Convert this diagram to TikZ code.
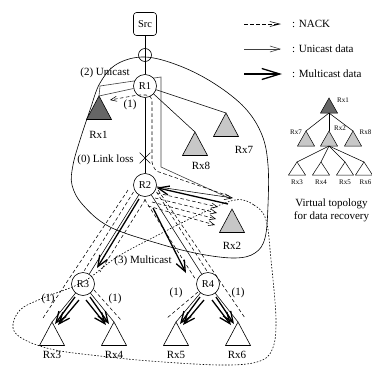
\documentclass[tikz,border=0pt]{standalone}
\usepackage{fontspec}
\setmainfont{Liberation Serif}
\usetikzlibrary{arrows.meta,shapes.misc}
\pgfdeclarelayer{bg}
\pgfsetlayers{bg,main}
\begin{document}
\begin{tikzpicture}[x=1pt,y=-1pt,
  lbl/.style={font=\fontsize{11}{13}\selectfont, inner sep=0pt},
  tinylbl/.style={font=\fontsize{7}{8}\selectfont, inner sep=0pt},
  router/.style={circle, draw, line width=0.6pt, minimum size=23pt, inner sep=0pt, font=\fontsize{10.5}{12}\selectfont},
  srcbox/.style={draw, line width=0.6pt, rounded corners=3pt, minimum size=23pt, inner sep=0pt, font=\fontsize{10.5}{12}\selectfont},
  lnk/.style={line width=0.55pt},
  nack/.style={line width=0.55pt, dash pattern=on 3.5pt off 2.5pt},
  nackarr/.style={nack, -{Straight Barb[length=6pt,width=5pt]}},
  legnack/.style={nack, -{Straight Barb[length=10pt,width=5pt]}},
  ucast/.style={line width=0.6pt, black!75},
  ucastarr/.style={lnk, -{Straight Barb[length=8pt,width=6pt]}},
  legucast/.style={ucast, -{Straight Barb[length=10pt,width=6pt]}},
  mcast/.style={line width=1.3pt, -{Straight Barb[length=11pt,width=9pt]}},
  legmcast/.style={line width=1.3pt, -{Straight Barb[length=18pt,width=11pt]}},
  region/.style={line width=0.6pt},
  dregion/.style={line width=0.6pt, dash pattern=on 1.6pt off 1.6pt},
  tri/.pic={\path[pic actions] (0,0) -- (-12.5,23.5) -- (12.5,23.5) -- cycle; \coordinate (-top) at (0,0);},
  mtri/.pic={\path[pic actions] (0,0) -- (-8.5,15) -- (8.5,15) -- cycle; \coordinate (-top) at (0,0); \coordinate (-base) at (0,15);},
  btri/.pic={\path[pic actions] (0,0) -- (-8.5,13) -- (8.5,13) -- cycle; \coordinate (-top) at (0,0);}
]
\useasboundingbox (0,0) rectangle (372,367);

% ---------- nodes ----------
\node[srcbox] (src) at (145,24) {Src};
\node[circle, draw, line width=0.6pt, minimum size=13pt, inner sep=0pt] (j) at (145,55) {};
\node[router, fill=white] (R1) at (145,86) {R1};
\node[router] (R2) at (145,185) {R2};
\node[router] (R3) at (83,284) {R3};
\node[router] (R4) at (208,284) {R4};

\pic[draw, fill=black!60, line width=0.6pt] (rx1) at (99,96) {tri};
\pic[draw, fill=black!22, line width=0.6pt] (rx8) at (195,132) {tri};
\pic[draw, fill=black!22, line width=0.6pt] (rx7) at (226,113) {tri};
\pic[draw, fill=black!22, line width=0.6pt] (rx2) at (232,209) {tri};
\pic[draw, fill=white, line width=0.6pt] (rx3) at (52,322) {tri};
\pic[draw, fill=white, line width=0.6pt] (rx4) at (114,322) {tri};
\pic[draw, fill=white, line width=0.6pt] (rx5) at (176,322) {tri};
\pic[draw, fill=white, line width=0.6pt] (rx6) at (238,322) {tri};

\node[lbl] (lrx1) at (98.5,135) {Rx1};
\node[lbl] (lrx8) at (201,166) {Rx8};
\node[lbl] (lrx7) at (244,150) {Rx7};
\node[lbl] (lrx2) at (232,246) {Rx2};
\node[lbl] (lrx3) at (52,355) {Rx3};
\node[lbl] (lrx4) at (114,355) {Rx4};
\node[lbl] (lrx5) at (176,355) {Rx5};
\node[lbl] (lrx6) at (237,355) {Rx6};

\node[lbl] (unic) at (105,73) {(2) Unicast};
\node[lbl] (loss) at (105.5,160) {(0) Link loss};
\node[lbl] (one0) at (130,105) {(1)};
\node[lbl] (mult) at (143,261) {(3) Multicast};
\node[lbl] (one1) at (48,299) {(1)};
\node[lbl] (one2) at (115,299) {(1)};
\node[lbl] (one3) at (176,293) {(1)};
\node[lbl] (one4) at (238,293) {(1)};

\node[draw, cross out, line width=0.6pt, minimum size=10pt, inner sep=0pt] (xl) at (145,158) {};

% ---------- background lines ----------
\begin{pgfonlayer}{bg}
\draw[region] plot[smooth cycle, tension=0.6] coordinates {(145,57) (180,66) (215,84) (245,108) (262,135) (268,165) (268,205) (265,238) (255,253) (235,258) (200,254) (160,244) (110,227) (83,205) (72,185) (73,165) (80,140) (90,110) (100,83) (117,64)};
\draw[dregion] plot[smooth cycle, tension=0.6] coordinates {(235,200) (254,205) (266,220) (271,260) (276,320) (272,350) (257,362) (220,365) (150,361) (100,356) (55,350) (25,340) (13,328) (20,310) (43,298) (83,282) (117,257) (160,234) (200,214)};
\draw[lnk] (src) -- (R1);
\draw[lnk] (R1) -- (R2);
\draw[lnk] (R1) -- (rx8-top);
\draw[lnk] (R1) -- (rx7-top);
\draw[ucast] (rx1-top) -- (100,86) -- (161,77) -- (161,167) -- (231,199);
\draw[ucast] (rx1-top) -- (R1);
\end{pgfonlayer}

% ---------- NACK path through R1 ----------
\draw[nackarr, rounded corners=2pt] (229,196) -- (156,171) -- (152,164) -- (152,98) -- (148,95) -- (138,95) -- (110,100);

% ---------- R2 <-> Rx2 ----------
\draw[ucastarr] (R2) -- (233,198);
\draw[mcast] (228,204) -- (R2);
\draw[nackarr] (157,193) -- (218,207);
\draw[nackarr] (155,198) -- (217,213);
\draw[nackarr] (152,202) -- (216,219);
\draw[nackarr] (148,206) -- (215,225);

% ---------- R2 -> R3 corridor ----------
\draw[lnk] (R2) -- (R3);
\draw[mcast] (139,199) -- (97,268);
\draw[nack] (128,190) -- (43,318);
\draw[nack] (133.5,192) -- (84.3,270.6);
\draw[nack] (145.4,199.4) -- (100,272);

% ---------- R3 subtree ----------
\draw[lnk] (R3) -- (rx3-top);
\draw[lnk] (R3) -- (rx4-top);
\draw[mcast] (75,297) -- (55,324);
\draw[mcast] (79,300) -- (58,325);
\draw[mcast] (90,297) -- (109,324);
\draw[mcast] (86,300) -- (106,325);
\draw[nack] (94,290) -- (121,320);

% ---------- R2 -> R4 corridor ----------
\draw[lnk] (R2) -- (R4);
\draw[mcast] (153,208) -- (186,273);
\draw[nack] (158,190) -- (245,318);
\draw[nack] (156.5,191.9) -- (206.7,270.7);
\draw[nack] (144.6,199.4) -- (194.8,278.2);

% ---------- R4 subtree ----------
\draw[lnk] (R4) -- (rx5-top);
\draw[lnk] (R4) -- (rx6-top);
\draw[mcast] (200,297) -- (180,324);
\draw[mcast] (204,300) -- (183,325);
\draw[mcast] (216,297) -- (234,324);
\draw[mcast] (212,300) -- (231,325);
\draw[nack] (198,292) -- (167,318);

% ---------- legend ----------
\coordinate (la1) at (244,24); \coordinate (lb1) at (281,24);
\coordinate (la2) at (244,49); \coordinate (lb2) at (281,49);
\coordinate (la3) at (244,74); \coordinate (lb3) at (282,74);
\draw[legnack] (la1) -- (lb1);
\draw[legucast] (la2) -- (lb2);
\draw[legmcast] (la3) -- (lb3);
\node[lbl, anchor=west] (lt1) at (292,24) {: NACK};
\node[lbl, anchor=west] (lt2) at (292,49) {: Unicast data};
\node[lbl, anchor=west] (lt3) at (292,74) {: Multicast data};

% ---------- virtual topology ----------
\pic[draw, fill=black!60, line width=0.5pt] (v1) at (329,98) {mtri};
\pic[draw, fill=black!22, line width=0.5pt] (v7) at (306,131) {mtri};
\pic[draw, fill=black!22, line width=0.5pt] (v2) at (329,131) {mtri};
\pic[draw, fill=black!22, line width=0.5pt] (v8) at (353,131) {mtri};
\pic[draw, fill=white, line width=0.5pt] (v3) at (297,162) {btri};
\pic[draw, fill=white, line width=0.5pt] (v4) at (321,162) {btri};
\pic[draw, fill=white, line width=0.5pt] (v5) at (345,162) {btri};
\pic[draw, fill=white, line width=0.5pt] (v6) at (364,162) {btri};
\draw[lnk] (v1-base) -- (v7-top);
\draw[lnk] (v1-base) -- (v2-top);
\draw[lnk] (v1-base) -- (v8-top);
\draw[lnk] (v2-base) -- (v3-top);
\draw[lnk] (v2-base) -- (v4-top);
\draw[lnk] (v2-base) -- (v5-top);
\draw[lnk] (v2-base) -- (v6-top);
\node[tinylbl] (tv1) at (343,100) {Rx1};
\node[tinylbl] (tv7) at (296,132) {Rx7};
\node[tinylbl] (tv2) at (340,128) {Rx2};
\node[tinylbl, anchor=east] (tv8) at (371.5,132) {Rx8};
\node[tinylbl] (tv3) at (297,182) {Rx3};
\node[tinylbl] (tv4) at (321,182) {Rx4};
\node[tinylbl] (tv5) at (345,182) {Rx5};
\node[tinylbl, anchor=east] (tv6) at (371.5,182) {Rx6};
\node[lbl, align=center] (vt) at (331.5,210) {Virtual topology\\for data recovery};
\end{tikzpicture}
\end{document}
